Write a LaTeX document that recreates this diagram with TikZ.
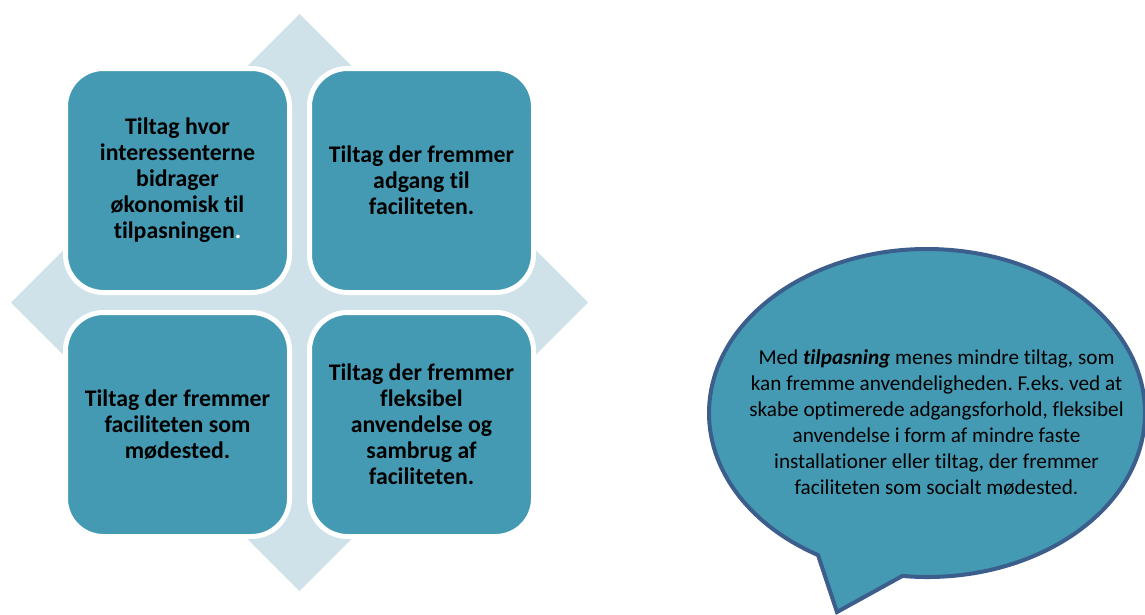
\documentclass[tikz,border=0pt]{standalone}
\usepackage{fontspec}
\setmainfont{Carlito}[Ligatures=NoCommon]
\usetikzlibrary{calc}
\definecolor{boxblue}{HTML}{459AB3}
\definecolor{diamondblue}{HTML}{D0E2E9}
\definecolor{bubbleline}{HTML}{3B5E8C}
\frenchspacing
\begin{document}
\begin{tikzpicture}[x=1pt,y=1pt,
  quad/.style={rectangle, rounded corners=38pt, fill=boxblue, draw=white, line width=5pt,
    minimum width=224pt, minimum height=224pt, inner sep=0pt, align=center,
    font=\frenchspacing\bfseries\fontsize{23.8}{26}\selectfont, text=black},
  bubble/.style={fill=boxblue, draw=bubbleline, line width=4pt, line join=miter},
  bubbletext/.style={align=center, inner sep=0pt, font=\frenchspacing\fontsize{21.2}{26}\selectfont, text=black}]
\useasboundingbox (0,0) rectangle (1145,-614);
\fill[white] (0,0) rectangle (1145,-614);
% background diamond
\fill[diamondblue] (299.5,-14) -- (588,-302.5) -- (299.5,-591) -- (11,-302.5) -- cycle;
% four boxes
\node[quad] (tl) at (177.5,-180.5) {Tiltag hvor\\interessenterne\\bidrager\\økonomisk til\\tilpasningen{\color{white}.}};
\node[quad] (tr) at (421.5,-180.5) {Tiltag der fremmer\\adgang til\\faciliteten.};
\node[quad] (bl) at (177.5,-424.5) {Tiltag der fremmer\\faciliteten som\\mødested.};
\node[quad] (br) at (421.5,-424.5) {Tiltag der fremmer\\fleksibel\\anvendelse og\\sambrug af\\faciliteten.};
% speech bubble
\coordinate (bc) at (927,-413);
\coordinate (tip) at (837,-612);
\draw[bubble] (tip) -- ($(bc)+(263.5:218pt and 164pt)$)
  arc[start angle=263.5, end angle=600, x radius=218pt, y radius=164pt] -- cycle;
\node[bubbletext] (note) at (936.5,-422) {Med \textbf{\textit{tilpasning}} menes mindre tiltag, som\\
kan fremme anvendeligheden. F.eks. ved at\\
skabe optimerede adgangsforhold, fleksibel\\
anvendelse i form af mindre faste\\
installationer eller tiltag, der fremmer\\
faciliteten som socialt mødested.};
\end{tikzpicture}
\end{document}
